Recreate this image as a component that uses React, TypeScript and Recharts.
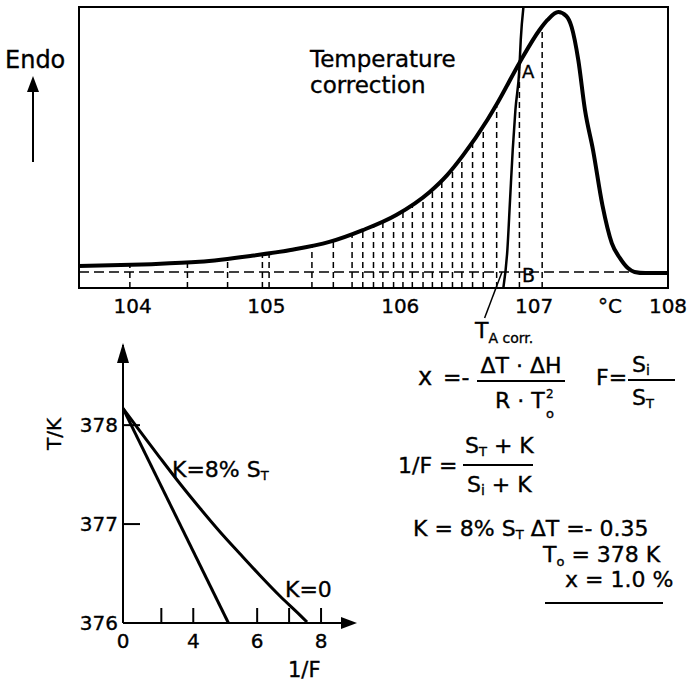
import { LineChart, Line, XAxis, YAxis, ReferenceLine, ReferenceArea } from "recharts";

// DSC melting peak with the stepwise partial-area (van't Hoff) purity
// evaluation, plus the T vs 1/F plot and the formulas used.

const FONT = "'DejaVu Sans', Verdana, sans-serif";

// --- upper plot: DSC trace, signal in arbitrary units (0 = axis, 100 = top of box)
const dscTemp = [
  103.6, 104.07, 104.5, 104.88, 105.18, 105.47, 105.72, 105.97, 106.22, 106.35,
  106.47, 106.65, 106.73, 106.89, 107.04, 107.1, 107.18, 107.24, 107.28, 107.33,
  107.38, 107.44, 107.51, 107.58, 107.64, 107.7, 107.75, 107.83, 108.0,
];
const dscSignal = [
  7.8, 8.4, 9.3, 11.4, 13.5, 16.4, 20.6, 26.0, 34.2, 40.2,
  47.3, 59.8, 66.2, 80.1, 91.8, 95.4, 98.2, 96.8, 92.9, 81.1,
  63.3, 49.1, 29.5, 16.0, 10.7, 7.1, 5.7, 5.3, 5.3,
];

// steep line used for the temperature correction (crosses the trace at A)
const corrTemp = [106.77, 106.8, 106.82, 106.84, 106.86, 106.89, 106.9, 106.92];
const corrSignal = [0, 13.5, 31.3, 49.1, 63.3, 78.3, 88.3, 100];

// dashed partial-area slices: position and height where they meet the trace
const sliceTemp = [
  103.98, 104.41, 104.71, 104.97, 105.02, 105.34, 105.5, 105.64, 105.72, 105.8,
  105.87, 105.95, 106.02, 106.09, 106.17, 106.24, 106.31, 106.39, 106.46, 106.54,
  106.62, 106.72, 106.89, 107.06,
];
const sliceTop = [
  8.5, 9.1, 10.5, 11.9, 12.3, 14.9, 16.5, 19.2, 20.6, 22.2,
  23.8, 25.3, 27.2, 29.7, 32.2, 35.1, 38.4, 42.9, 47.0, 52.3,
  57.7, 65.5, 80.1, 92.5,
];

const baseline = 5.7;
const topTicks = [104, 105, 106, 107, 108];

// --- lower plot: T/K against 1/F (origin of the drawn axis is labelled 0)
const lineInvF = [1.8, 5.1];
const lineT = [378.17, 376.0];
const curveInvF = [1.8, 2.33, 2.96, 3.58, 4.21, 4.84, 5.46, 6.09, 6.72, 7.34, 7.56];
const curveT = [378.17, 377.94, 377.67, 377.41, 377.16, 376.92, 376.7, 376.48, 376.27, 376.08, 376.01];

const invFTicks = [1.8, 3, 4, 6, 7, 8];
const invFLabels = ["0", "", "4", "6", "", "8"];
const tTicks = [376, 377, 378];

const dscData = dscTemp.map((t, i) => ({ t, v: dscSignal[i] }));
const corrData = corrTemp.map((t, i) => ({ t, v: corrSignal[i] }));
const lineData = lineInvF.map((f, i) => ({ f, T: lineT[i] }));
const curveData = curveInvF.map((f, i) => ({ f, T: curveT[i] }));

const ink = { fontFamily: FONT, fill: "#000", stroke: "#000", strokeWidth: 0.35 };

function TopTick(props: any) {
  const { x, y, payload } = props;
  return (
    <text x={x} y={y + 25} textAnchor="middle" fontSize={20} {...ink}>
      {payload.value}
    </text>
  );
}

function InvFTick(props: any) {
  const { x, y, payload } = props;
  const i = invFTicks.indexOf(payload.value);
  return (
    <g>
      {i > 0 && <line x1={x} y1={y} x2={x} y2={y - 15} stroke="#000" strokeWidth={2} />}
      <text x={x} y={y + 25} textAnchor="middle" fontSize={20} {...ink}>
        {invFLabels[i]}
      </text>
    </g>
  );
}

function TTick(props: any) {
  const { x, y, payload } = props;
  return (
    <g>
      {payload.value !== tTicks[0] && (
        <line x1={x} y1={y} x2={x + 17} y2={y} stroke="#000" strokeWidth={2} />
      )}
      <text x={x - 5} y={y + 7} textAnchor="end" fontSize={20} {...ink}>
        {payload.value}
      </text>
    </g>
  );
}

function Overlay() {
  const t = ink;
  return (
    <svg
      width={690}
      height={690}
      style={{ position: "absolute", left: 0, top: 0, pointerEvents: "none" }}
    >
      {/* upper plot annotations */}
      <text x={5} y={68} fontSize={24} {...t}>Endo</text>
      <line x1={33} y1={162} x2={33} y2={88} stroke="#000" strokeWidth={2} />
      <polygon points="27,92 39,92 33,76" fill="#000" />
      <text x={310} y={67} fontSize={23} {...t}>Temperature</text>
      <text x={310} y={93} fontSize={23} {...t}>correction</text>
      <text x={522} y={78} fontSize={18} {...t}>A</text>
      <text x={522} y={282} fontSize={19} {...t}>B</text>
      <text x={598} y={313} fontSize={20} {...t}>°C</text>
      <text x={475} y={338} fontSize={22} {...t}>
        T<tspan fontSize={14} dy={5}>A corr.</tspan>
      </text>

      {/* lower plot labels */}
      <text transform="translate(61,434) rotate(-90)" textAnchor="middle" fontSize={20} {...t}>
        T/K
      </text>
      <polygon points="117,363 129,363 123,343" fill="#000" />
      <polygon points="341,617 341,629 357,623" fill="#000" />
      <text x={172} y={477} fontSize={22} {...t}>
        K=8% S<tspan fontSize={13} dy={3}>T</tspan>
      </text>
      <text x={285} y={597} fontSize={22} {...t}>K=0</text>
      <text x={288} y={677} fontSize={21} {...t}>1/F</text>

      {/* formulas */}
      <text x={418} y={385} fontSize={24} {...t}>x</text>
      <text x={443} y={385} fontSize={22} {...t}>=-</text>
      <text x={521} y={373} textAnchor="middle" fontSize={22} {...t}>ΔT · ΔH</text>
      <line x1={477} y1={381} x2={565} y2={381} stroke="#000" strokeWidth={2} />
      <text x={495} y={408} fontSize={22} {...t}>R · T</text>
      <text x={546} y={398} fontSize={12} {...t}>2</text>
      <text x={546} y={418} fontSize={13} {...t}>o</text>

      <text x={596} y={385} fontSize={22} {...t}>F=</text>
      <text x={632} y={372} fontSize={22} {...t}>
        S<tspan fontSize={14} dy={3}>i</tspan>
      </text>
      <line x1={628} y1={380} x2={675} y2={380} stroke="#000" strokeWidth={2} />
      <text x={632} y={405} fontSize={22} {...t}>
        S<tspan fontSize={13} dy={3}>T</tspan>
      </text>

      <text x={398} y={473} fontSize={22} {...t}>1/F =</text>
      <text x={465} y={453} fontSize={22} {...t}>
        S<tspan fontSize={13} dy={3}>T</tspan>
        <tspan dy={-3}> + K</tspan>
      </text>
      <line x1={463} y1={465} x2={533} y2={465} stroke="#000" strokeWidth={2} />
      <text x={467} y={492} fontSize={22} {...t}>
        S<tspan fontSize={14} dy={3}>i</tspan>
        <tspan dy={-3}> + K</tspan>
      </text>

      <text x={413} y={536} fontSize={22} {...t}>
        K  = 8% S<tspan fontSize={13} dy={3}>T</tspan>
        <tspan dy={-3}> ΔT =- 0.35</tspan>
      </text>
      <text x={543} y={562} fontSize={22} {...t}>
        T<tspan fontSize={13} dy={4}>o</tspan>
        <tspan dy={-4}> = 378 K</tspan>
      </text>
      <text x={565} y={587} fontSize={22} {...t}>x  = 1.0 %</text>
      <line x1={545} y1={603} x2={663} y2={603} stroke="#000" strokeWidth={2} />
    </svg>
  );
}

export default function App() {
  return (
    <div style={{ position: "absolute", left: 0, top: 0, width: 690, height: 690, background: "#fff" }}>
      <div style={{ position: "absolute", left: 0, top: 0 }}>
        <LineChart width={690} height={330} margin={{ top: 7, right: 22, bottom: 12, left: 79 }}>
          <XAxis
            type="number"
            dataKey="t"
            domain={[103.6, 108]}
            ticks={topTicks}
            allowDataOverflow
            axisLine={false}
            tickLine={false}
            tickSize={0}
            tickMargin={0}
            height={30}
            tick={TopTick}
          />
          <YAxis hide type="number" domain={[0, 100]} allowDataOverflow />
          <ReferenceArea
            x1={103.6}
            x2={108}
            y1={0}
            y2={100}
            fill="none"
            stroke="#000"
            strokeWidth={2}
          />
          <ReferenceLine y={baseline} stroke="#000" strokeWidth={1.5} strokeDasharray="10 5" />
          {sliceTemp.map((s, i) => (
            <ReferenceLine
              key={i}
              segment={[{ x: s, y: 0 }, { x: s, y: sliceTop[i] }]}
              stroke="#000"
              strokeWidth={1.5}
              strokeDasharray="6 4"
            />
          ))}
          <ReferenceLine
            segment={[{ x: 106.63, y: -10.7 }, { x: 106.76, y: baseline }]}
            ifOverflow="visible"
            stroke="#000"
            strokeWidth={1.5}
          />
          <Line
            data={corrData}
            dataKey="v"
            type="monotone"
            stroke="#000"
            strokeWidth={2.5}
            dot={false}
            isAnimationActive={false}
          />
          <Line
            data={dscData}
            dataKey="v"
            type="monotone"
            stroke="#000"
            strokeWidth={4}
            dot={false}
            isAnimationActive={false}
          />
        </LineChart>
      </div>

      <div style={{ position: "absolute", left: 0, top: 330 }}>
        <LineChart width={380} height={340} margin={{ top: 15, right: 35, bottom: 17, left: 63 }}>
          <XAxis
            type="number"
            dataKey="f"
            domain={[1.8, 8.75]}
            ticks={invFTicks}
            allowDataOverflow
            axisLine={{ stroke: "#000", strokeWidth: 2 }}
            tickLine={false}
            tickSize={0}
            tickMargin={0}
            height={30}
            tick={InvFTick}
          />
          <YAxis
            type="number"
            dataKey="T"
            domain={[376, 378.81]}
            ticks={tTicks}
            allowDataOverflow
            width={60}
            axisLine={{ stroke: "#000", strokeWidth: 2 }}
            tickLine={false}
            tickSize={0}
            tickMargin={0}
            tick={TTick}
          />
          <Line
            data={lineData}
            dataKey="T"
            type="linear"
            stroke="#000"
            strokeWidth={3}
            dot={false}
            isAnimationActive={false}
          />
          <Line
            data={curveData}
            dataKey="T"
            type="monotone"
            stroke="#000"
            strokeWidth={3}
            dot={false}
            isAnimationActive={false}
          />
        </LineChart>
      </div>

      <Overlay />
    </div>
  );
}
